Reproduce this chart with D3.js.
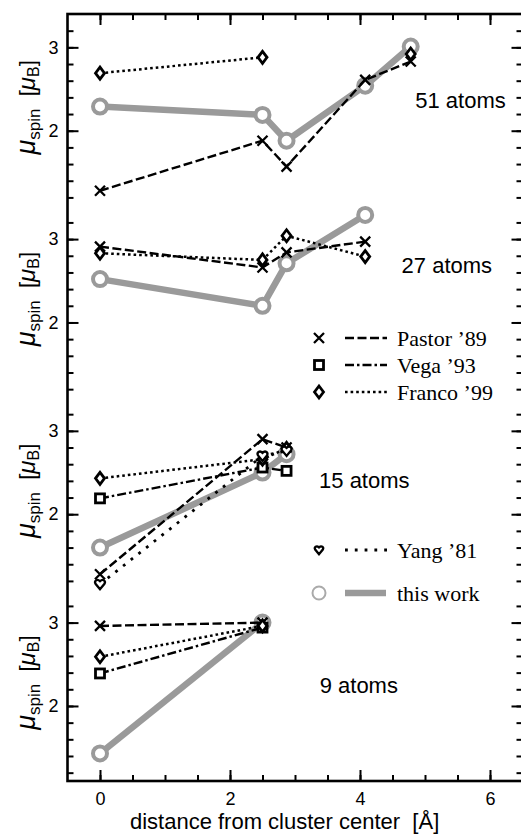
<!DOCTYPE html>
<html><head><meta charset="utf-8">
<script src="https://cdn.jsdelivr.net/npm/d3@7"></script>
<style>body{margin:0;background:#fff}</style>
</head><body><svg id="c" width="521" height="834"></svg>
<script>
// ---------------- data ----------------
const positions = [0, 2.5, 2.87, 4.08, 4.78];           // distance from cluster center [Å]
const panelNames = ["51 atoms", "27 atoms", "15 atoms", "9 atoms"];
const thisWork = [[2.29, 2.19, 1.88, 2.54, 3.01], [2.52, 2.20, 2.71, 3.29], [1.60, 2.50, 2.72], [1.43, 3.00]];
const pastor   = [[1.28, 1.88, 1.57, 2.61, 2.83], [2.91, 2.66, 2.84, 2.97], [1.28, 2.90, 2.80], [2.96, 3.00]];
const vega     = [[], [], [2.19, 2.56, 2.52], [2.39, 2.94]];
const franco   = [[2.69, 2.88, null, null, 2.92], [2.83, 2.75, 3.04, 2.79], [2.43, 2.66, 2.79], [2.59, 2.96]];
const yang     = [[], [], [1.16, 2.70, 2.76], []];
const labelPos = [[4.85, 2.36], [4.64, 2.68], [3.37, 2.40], [3.38, 2.25]];
const xTicksMajor = [0, 2, 4, 6];
const yTicksMajor = [2, 3];
const legendLabels = ["Pastor ’89", "Vega ’93", "Franco ’99", "Yang ’81", "this work"];

// ---------------- layout ----------------
const svg = d3.select("#c");
svg.append("rect").attr("width", 521).attr("height", 834).attr("fill", "#fff");
const L = 67.5, R = 522.5, T = 14, B = 781;
const nP = panelNames.length, pH = (B - T) / nP;
const x = d3.scaleLinear().domain([-0.5, 6.5]).range([L, R]);
const yDom = [1.1, 3.4];
const ys = panelNames.map((_, i) => d3.scaleLinear().domain(yDom).range([T + (i + 1) * pH, T + i * pH]));
const gray = "#9a9a9a";
const sans = "'Liberation Sans', Arial, Helvetica, sans-serif";
const serif = "'Liberation Serif', 'Times New Roman', serif";

const styles = {
  pastor: {dash: "9,3.5", w: 2.4},
  vega:   {dash: "9,3,2.5,3", w: 2.4},
  franco: {dash: "2.6,3", w: 2.5},
  yang:   {dash: "2.8,7", w: 2.8}
};

function sym(g, type, cx, cy, scale = 1) {
  const s = scale;
  if (type === "pastor") {
    g.append("path").attr("d", `M${cx-5*s},${cy-5*s}L${cx+5*s},${cy+5*s}M${cx-5*s},${cy+5*s}L${cx+5*s},${cy-5*s}`)
      .attr("stroke", "#000").attr("stroke-width", 2.3).attr("fill", "none");
  } else if (type === "vega") {
    g.append("rect").attr("x", cx - 4.5*s).attr("y", cy - 4.5*s).attr("width", 9*s).attr("height", 9*s)
      .attr("fill", "#fff").attr("stroke", "#000").attr("stroke-width", 2.8);
  } else if (type === "franco") {
    g.append("path").attr("d", `M${cx},${cy-6*s}L${cx+4.5*s},${cy}L${cx},${cy+6*s}L${cx-4.5*s},${cy}Z`)
      .attr("fill", "#fff").attr("stroke", "#000").attr("stroke-width", 2.8);
  } else if (type === "yang") {
    g.append("path").attr("d", `M${cx},${cy+5*s}L${cx-4.5*s},${cy-0.5*s}C${cx-6*s},${cy-3*s} ${cx-3*s},${cy-6*s} ${cx},${cy-3*s}C${cx+3*s},${cy-6*s} ${cx+6*s},${cy-3*s} ${cx+4.5*s},${cy-0.5*s}Z`)
      .attr("fill", "#fff").attr("stroke", "#000").attr("stroke-width", 2.3);
  } else if (type === "this") {
    g.append("circle").attr("cx", cx).attr("cy", cy).attr("r", 7*s)
      .attr("fill", "#fff").attr("stroke", gray).attr("stroke-width", 4*s);
  }
}

// ---------------- axes ----------------
const minorY = d3.range(1.2, 3.3, 0.2).map(v => +v.toFixed(1));
const minorX = d3.range(0, 6.51, 0.5);
ys.forEach((y, i) => {
  svg.append("g").attr("transform", `translate(${L},0)`)
    .call(d3.axisLeft(y).tickValues(minorY).tickSize(-6).tickFormat(""))
    .call(g => g.select(".domain").remove());
  svg.append("g").attr("transform", `translate(${L},0)`)
    .call(d3.axisLeft(y).tickValues(yTicksMajor).tickSize(-11).tickPadding(9).tickFormat(d3.format("d")))
    .call(g => g.select(".domain").remove())
    .call(g => g.selectAll("text").attr("font-family", sans).attr("font-size", 18).attr("fill", "#000"));
  svg.append("g").attr("transform", `translate(${R},0)`)
    .call(d3.axisRight(y).tickValues(minorY).tickSize(-6).tickFormat(""))
    .call(g => g.select(".domain").remove());
  svg.append("g").attr("transform", `translate(${R},0)`)
    .call(d3.axisRight(y).tickValues(yTicksMajor).tickSize(-11).tickFormat(""))
    .call(g => g.select(".domain").remove());
});

const gxB = svg.append("g").attr("transform", `translate(0,${B})`);
gxB.call(d3.axisBottom(x).tickValues(minorX).tickSize(-6).tickFormat(""));
gxB.select(".domain").remove();
const gxB2 = svg.append("g").attr("transform", `translate(0,${B})`);
gxB2.call(d3.axisBottom(x).tickValues(xTicksMajor).tickSize(-11).tickPadding(9).tickFormat(d3.format("d")));
gxB2.select(".domain").remove();
gxB2.selectAll("text").attr("font-family", sans).attr("font-size", 18).attr("fill", "#000").attr("dy", "0.85em");
const gxT = svg.append("g").attr("transform", `translate(0,${T})`);
gxT.call(d3.axisTop(x).tickValues(minorX).tickSize(-6).tickFormat(""));
gxT.select(".domain").remove();
const gxT2 = svg.append("g").attr("transform", `translate(0,${T})`);
gxT2.call(d3.axisTop(x).tickValues(xTicksMajor).tickSize(-11).tickFormat(""));
gxT2.select(".domain").remove();
svg.selectAll(".tick line").attr("stroke-width", 2);

svg.append("rect").attr("x", L).attr("y", T).attr("width", R - L).attr("height", B - T)
  .attr("fill", "none").attr("stroke", "#000").attr("stroke-width", 2.6);

// axis titles
svg.append("text").attr("x", x(2.84)).attr("y", 829).attr("text-anchor", "middle")
  .attr("font-family", sans).attr("font-size", 22).text("distance from cluster center\u00a0\u00a0[Å]");

ys.forEach((y, i) => {
  const t = svg.append("text").attr("transform", `translate(35,${y(2.28)}) rotate(-90)`)
    .attr("text-anchor", "middle").attr("font-family", sans).attr("font-size", 22);
  t.append("tspan").attr("font-style", "italic").attr("font-size", 27).text("μ");
  t.append("tspan").attr("font-size", 17).attr("dy", 5).text("spin");
  t.append("tspan").attr("dy", -5).text("\u00a0\u00a0[");
  t.append("tspan").attr("font-style", "italic").attr("font-size", 24).text("μ");
  t.append("tspan").attr("font-size", 16).attr("dy", 4).text("B");
  t.append("tspan").attr("dy", -4).text("]");
});

// ---------------- series ----------------
const plot = svg.append("g");
const series = [["pastor", pastor], ["vega", vega], ["franco", franco], ["yang", yang]];
ys.forEach((y, i) => {
  const line = d3.line().defined(d => d[1] != null).x(d => x(d[0])).y(d => y(d[1]));
  const tw = thisWork[i].map((v, j) => [positions[j], v]);
  plot.append("path").attr("d", line(tw)).attr("fill", "none").attr("stroke", gray)
    .attr("stroke-width", 6.5).attr("stroke-linejoin", "round");
  tw.forEach(d => sym(plot, "this", x(d[0]), y(d[1])));
  series.forEach(([name, data]) => {
    const pts = data[i].map((v, j) => [positions[j], v]);
    if (!pts.length) return;
    plot.append("path").attr("d", line(pts)).attr("fill", "none").attr("stroke", "#000")
      .attr("stroke-width", styles[name].w).attr("stroke-dasharray", styles[name].dash);
  });
  series.forEach(([name, data]) => {
    data[i].forEach((v, j) => { if (v != null) sym(plot, name, x(positions[j]), y(v)); });
  });
  svg.append("text").attr("x", x(labelPos[i][0])).attr("y", y(labelPos[i][1]))
    .attr("dominant-baseline", "central").attr("font-family", sans).attr("font-size", 22)
    .text(panelNames[i]);
});

// ---------------- legend ----------------
const legRows = [
  {k: "pastor", y: 338}, {k: "vega", y: 365}, {k: "franco", y: 392},
  {k: "yang", y: 550}, {k: "this", y: 593}
];
legRows.forEach((r, i) => {
  const g = svg.append("g");
  if (r.k === "this") {
    g.append("circle").attr("cx", 319).attr("cy", r.y).attr("r", 6.5).attr("fill", "#fff")
      .attr("stroke", "#aaa").attr("stroke-width", 2);
    g.append("line").attr("x1", 345).attr("x2", 386).attr("y1", r.y).attr("y2", r.y)
      .attr("stroke", gray).attr("stroke-width", 6.5);
  } else {
    sym(g, r.k, 319, r.y, r.k === "yang" ? 0.85 : 1);
    g.append("line").attr("x1", 345).attr("x2", 387).attr("y1", r.y).attr("y2", r.y)
      .attr("stroke", "#000").attr("stroke-width", styles[r.k].w).attr("stroke-dasharray", styles[r.k].dash);
  }
  g.append("text").attr("x", 397).attr("y", r.y).attr("dominant-baseline", "central")
    .attr("font-family", serif).attr("font-size", 22).text(legendLabels[i]);
});
</script></body></html>
